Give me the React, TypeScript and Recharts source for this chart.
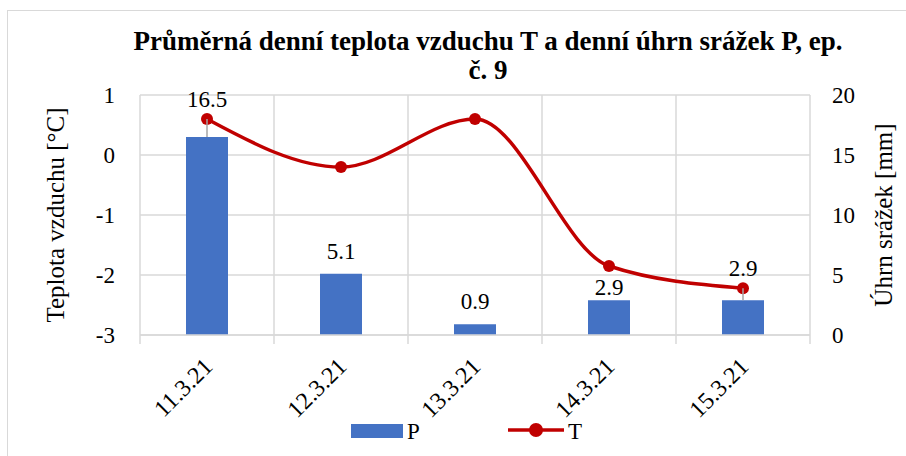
import {
  ComposedChart,
  Bar,
  Line,
  XAxis,
  YAxis,
  CartesianGrid,
  Legend,
  LabelList,
} from 'recharts'

const days = ['11.3.21', '12.3.21', '13.3.21', '14.3.21', '15.3.21']
const precip = [16.5, 5.1, 0.9, 2.9, 2.9]
const temp = [0.6, -0.2, 0.6, -1.85, -2.22]
const tempTicks = [-3, -2, -1, 0, 1]
const precipTicks = [0, 5, 10, 15, 20]

const data = days.map((day, i) => ({ day, P: precip[i], T: temp[i] }))

const W = 906
const H = 456
const TOP = 95
const LEFT_W = 140
const RIGHT_W = 96
const X_H = 80
const LEG_H = 41
const PLOT_H = H - TOP - X_H - LEG_H
const PLOT_W = W - LEFT_W - RIGHT_W

const BLUE = '#4472C4'
const RED = '#C00000'
const GRID = '#d9d9d9'
const FONT = "'Liberation Serif', 'Times New Roman', serif"
const FS = 23

// pixel y of a temperature on the left axis, used only to keep bar labels off the markers
const tempY = (t: number) =>
  TOP + ((tempTicks[tempTicks.length - 1] - t) / (tempTicks[tempTicks.length - 1] - tempTicks[0])) * PLOT_H

const DayTick = ({ x, y, payload, index }: any) => {
  const half = PLOT_W / days.length / 2
  return (
    <g>
      <line x1={x - half} x2={x - half} y1={y} y2={y + 9} stroke={GRID} strokeWidth={1.5} />
      {index === days.length - 1 && (
        <line x1={x + half} x2={x + half} y1={y} y2={y + 9} stroke={GRID} strokeWidth={1.5} />
      )}
      <text
        x={x + 7}
        y={y + 33}
        textAnchor="end"
        transform={`rotate(-45 ${x + 7} ${y + 33})`}
        style={{ fontFamily: FONT }}
        fontSize={24}
        fill="#000"
      >
        {payload.value}
      </text>
    </g>
  )
}

const PLabel = ({ x, y, width, value, index }: any) => {
  const cx = x + width / 2
  const my = tempY(temp[index])
  const crowded = Math.abs(my - (y - 22)) < 11
  let base = y - 15
  if (crowded) base = my - 12
  else if (my > base - 25 && my < base) base = Math.min(y - 5, my + 29)
  return (
    <g>
      {crowded && <line x1={cx} x2={cx} y1={my} y2={y} stroke="#a6a6a6" strokeWidth={1.5} />}
      <text x={cx} y={base} textAnchor="middle" style={{ fontFamily: FONT }} fontSize={FS} fill="#000">
        {value}
      </text>
    </g>
  )
}

const LegendContent = ({ payload }: any) => {
  const items = payload || []
  const p = items.find((it: any) => it.value === 'P')
  const t = items.find((it: any) => it.value === 'T')
  return (
    <svg width={W} height={LEG_H} style={{ display: 'block' }}>
      <rect x={351} y={9} width={52} height={14} fill={p?.color || BLUE} />
      <text x={407} y={16} dominantBaseline="central" style={{ fontFamily: FONT }} fontSize={FS} fill="#000">
        P
      </text>
      <line x1={508} x2={564} y1={15} y2={15} stroke={t?.color || RED} strokeWidth={3.5} />
      <circle cx={536} cy={15} r={7} fill={t?.color || RED} />
      <text x={568} y={16} dominantBaseline="central" style={{ fontFamily: FONT }} fontSize={FS} fill="#000">
        T
      </text>
    </svg>
  )
}

const tickStyle = { fontFamily: FONT, fontSize: FS, fill: '#000' }

export default function App() {
  return (
    <div
      style={{
        position: 'fixed',
        left: 0,
        top: 0,
        width: W,
        height: H,
        overflow: 'hidden',
        background: '#fff',
        fontFamily: FONT,
      }}
    >
      <div
        style={{
          position: 'absolute',
          left: 7,
          top: 10,
          right: -2,
          bottom: -2,
          border: `1px solid ${GRID}`,
        }}
      />
      <div
        style={{
          position: 'absolute',
          left: 38,
          top: 27,
          width: 900,
          textAlign: 'center',
          fontFamily: FONT,
          fontWeight: 'bold',
          fontSize: 27,
          lineHeight: '29px',
          color: '#000',
        }}
      >
        Průměrná denní teplota vzduchu T a denní úhrn srážek P, ep.
        <br />
        č. 9
      </div>
      <div style={{ position: 'absolute', left: 0, top: 0 }}>
        <ComposedChart width={W} height={H} data={data} margin={{ top: TOP, right: 0, bottom: 0, left: 0 }}>
          <CartesianGrid
            yAxisId="T"
            stroke={GRID}
            strokeWidth={1.5}
            verticalCoordinatesGenerator={({ offset }: any) =>
              days.map((_, i) => offset.left + (i * offset.width) / days.length).concat(offset.left + offset.width)
            }
          />
          <XAxis
            dataKey="day"
            height={X_H}
            axisLine={{ stroke: GRID, strokeWidth: 1.5 }}
            tickLine={false}
            tickSize={0}
            tickMargin={0}
            interval={0}
            tick={<DayTick />}
          />
          <YAxis
            yAxisId="T"
            orientation="left"
            width={LEFT_W}
            domain={[tempTicks[0], tempTicks[tempTicks.length - 1]]}
            ticks={tempTicks}
            axisLine={false}
            tickLine={false}
            tickSize={0}
            tickMargin={25}
            tick={tickStyle}
            label={() => (
              <text
                x={55}
                y={TOP + PLOT_H / 2}
                transform={`rotate(-90 55 ${TOP + PLOT_H / 2})`}
                textAnchor="middle"
                dominantBaseline="central"
                style={{ fontFamily: FONT }}
                fontSize={25}
                fill="#000"
              >
                Teplota vzduchu [°C]
              </text>
            )}
          />
          <YAxis
            yAxisId="P"
            orientation="right"
            width={RIGHT_W}
            domain={[precipTicks[0], precipTicks[precipTicks.length - 1]]}
            ticks={precipTicks}
            axisLine={false}
            tickLine={false}
            tickSize={0}
            tickMargin={22}
            tick={{ ...tickStyle, textAnchor: 'start' }}
            label={() => (
              <text
                x={883}
                y={TOP + PLOT_H / 2}
                transform={`rotate(-90 883 ${TOP + PLOT_H / 2})`}
                textAnchor="middle"
                dominantBaseline="central"
                style={{ fontFamily: FONT }}
                fontSize={25}
                fill="#000"
              >
                Úhrn srážek [mm]
              </text>
            )}
          />
          <Legend verticalAlign="bottom" height={LEG_H} wrapperStyle={{ left: 0, bottom: 0, width: W, height: LEG_H }} content={<LegendContent />} />
          <Bar yAxisId="P" dataKey="P" name="P" fill={BLUE} barSize={42} isAnimationActive={false}>
            <LabelList dataKey="P" content={<PLabel />} />
          </Bar>
          <Line
            yAxisId="T"
            type="monotone"
            dataKey="T"
            name="T"
            stroke={RED}
            strokeWidth={3.5}
            dot={{ r: 6, fill: RED, stroke: RED, strokeWidth: 0 }}
            activeDot={false}
            isAnimationActive={false}
          />
        </ComposedChart>
      </div>
    </div>
  )
}
